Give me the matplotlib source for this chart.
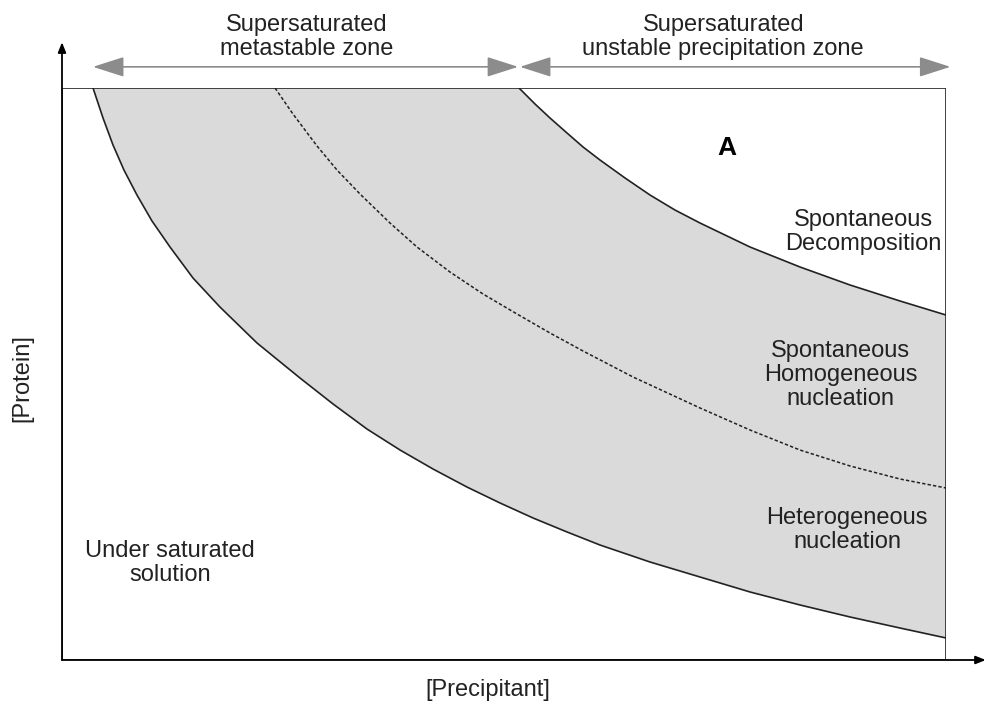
import matplotlib.pyplot as plt
from matplotlib.patches import FancyArrowPatch, Rectangle

# phase diagram curves ([Precipitant] 0-100, [Protein] 0-100)
solubility_x = [3.51, 4.64, 5.77, 7.01, 8.48, 10.18, 12.22, 14.82, 17.87, 22.06,
                26.92, 30.66, 34.50, 38.24, 41.97, 45.81, 49.55, 53.28, 57.13,
                60.86, 66.52, 72.17, 77.83, 83.48, 89.14, 94.80, 100.0]
solubility_y = [100.0, 94.76, 90.03, 85.66, 81.29, 76.75, 72.20, 66.78, 61.71, 55.42,
                49.30, 44.76, 40.38, 36.71, 33.39, 30.24, 27.45, 24.83, 22.38,
                20.10, 17.13, 14.51, 11.89, 9.62, 7.52, 5.59, 3.85]

nucleation_x = [24.10, 26.13, 28.85, 31.11, 33.71, 37.10, 40.16, 43.89, 47.62, 51.47,
                55.20, 58.94, 64.59, 72.17, 77.83, 83.48, 89.14, 94.80, 100.0]
nucleation_y = [100.0, 95.45, 89.86, 85.66, 81.47, 76.40, 72.20, 67.83, 63.99, 60.49,
                57.17, 54.02, 49.48, 44.06, 40.21, 36.71, 33.92, 31.64, 30.07]

precip_x = [51.70, 53.51, 55.20, 57.13, 58.94, 60.86, 63.69, 66.52, 69.34, 72.17,
            77.83, 83.48, 89.14, 94.80, 100.0]
precip_y = [100.0, 97.20, 94.76, 92.13, 89.69, 87.41, 84.27, 81.29, 78.67, 76.40,
            72.20, 68.71, 65.56, 62.76, 60.31]

zone_labels = ["Supersaturated\nmetastable zone",
               "Supersaturated\nunstable precipitation zone"]
region_labels = ["Spontaneous\nDecomposition",
                 "Spontaneous\nHomogeneous\nnucleation",
                 "Heterogeneous\nnucleation",
                 "Under saturated\nsolution"]

plt.rcParams['font.family'] = ['Liberation Sans', 'DejaVu Sans']
txt = '#222222'
fs = 17

fig = plt.figure(figsize=(9.84, 7.08), dpi=100)
ax = fig.add_axes([0.063, 0.0678, 0.8984, 0.8079])
ax.set_xlim(0, 100)
ax.set_ylim(0, 100)
ax.axis('off')

# grey band: solubility curve -> right edge -> precipitation curve -> top edge
band_x = solubility_x + precip_x[::-1]
band_y = solubility_y + precip_y[::-1]
ax.fill(band_x, band_y, color='#dadada', lw=0)

ax.plot(solubility_x, solubility_y, color='#222222', lw=1.2)
ax.plot(precip_x, precip_y, color='#222222', lw=1.2)
ax.plot(nucleation_x, nucleation_y, color='#222222', lw=1.1, dashes=(2.2, 1.4))

ax.add_patch(Rectangle((0, 0), 100, 100, fill=False, ec='#333333', lw=1.3))

# axis arrows
for end in [(0, 108.0), (104.5, 0)]:
    ax.annotate('', xy=end, xytext=(0, 0), annotation_clip=False,
                arrowprops=dict(arrowstyle='-|>,head_length=0.5,head_width=0.2',
                                color='black', lw=1.3, mutation_scale=12,
                                shrinkA=0, shrinkB=0))

# zone arrows on top
for x0, x1 in [(3.5, 51.6), (51.8, 100.5)]:
    ax.add_patch(FancyArrowPatch((x0, 103.7), (x1, 103.7),
                                 arrowstyle='<|-|>,head_length=0.97,head_width=0.31',
                                 mutation_scale=20, color='#8c8c8c', lw=1.2,
                                 shrinkA=0, shrinkB=0, clip_on=False))

ax.text(27.7, 108.9, zone_labels[0], ha='center', va='center', fontsize=fs,
        color=txt, linespacing=1.15, clip_on=False)
ax.text(74.8, 108.9, zone_labels[1], ha='center', va='center', fontsize=fs,
        color=txt, linespacing=1.15, clip_on=False)

ax.text(75.2, 89.5, 'A', ha='center', va='center', fontsize=19, fontweight='bold', color='black')
ax.text(90.7, 74.8, region_labels[0], ha='center', va='center', fontsize=fs,
        color=txt, linespacing=1.1)
ax.text(88.1, 49.8, region_labels[1], ha='center', va='center', fontsize=fs,
        color=txt, linespacing=1.1)
ax.text(88.8, 22.7, region_labels[2], ha='center', va='center', fontsize=fs,
        color=txt, linespacing=1.1)
ax.text(12.2, 17.0, region_labels[3], ha='center', va='center', fontsize=fs,
        color=txt, linespacing=1.1)

ax.text(-4.5, 49.3, '[Protein]', ha='center', va='center', rotation=90,
        fontsize=fs, color=txt, clip_on=False)
ax.text(48.2, -5.2, '[Precipitant]', ha='center', va='center',
        fontsize=fs, color=txt, clip_on=False)

fig.savefig('out.png', dpi=100, facecolor='white')
